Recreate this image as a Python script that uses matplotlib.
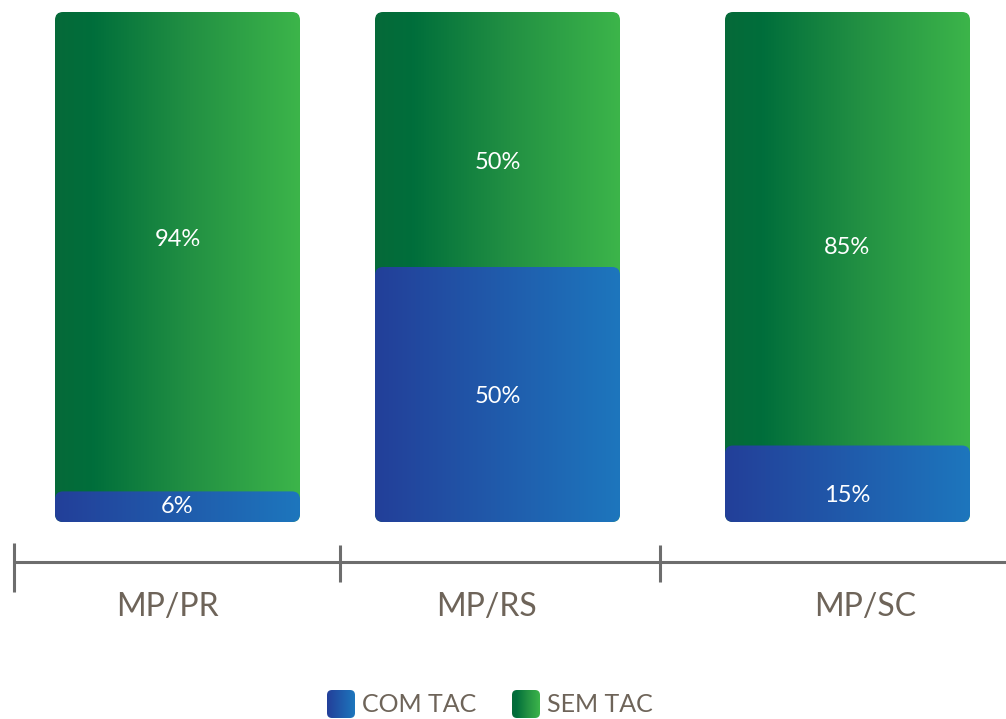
import numpy as np
import matplotlib
matplotlib.use("Agg")
import matplotlib.pyplot as plt
from matplotlib.patches import FancyBboxPatch
from matplotlib.colors import LinearSegmentedColormap

# ---- data ----
categories = ["MP/PR", "MP/RS", "MP/SC"]
com_tac = [6, 50, 15]
sem_tac = [94, 50, 85]
series_names = ["COM TAC", "SEM TAC"]

# ---- layout (pixels) ----
W, H = 1006, 719
bar_left = [55, 375, 725]
bar_width = 245
base_px = 522
scale = 5.1  # px per percent
cat_label_x = [167, 487, 865]
sem_label_dy = [-12, 23, 19]   # pixel nudges of value labels
com_label_dy = [0, 2, 12]

plt.rcParams['font.family'] = ['Lato', 'DejaVu Sans']
fig = plt.figure(figsize=(W / 100, H / 100), dpi=100)
ax = fig.add_axes([0, 0, 1, 1])
ax.set_axis_off()

def py(y):
    return (base_px - y) / scale

green_cmap = LinearSegmentedColormap.from_list(
    "g", [(0, "#066a39"), (0.15, "#006e3b"), (0.55, "#229043"), (1, "#3cb54a")])
blue_cmap = LinearSegmentedColormap.from_list(
    "b", [(0, "#233f99"), (1, "#1d76bd")])
grad = np.linspace(0, 1, 256).reshape(1, -1)
m_aspect = 1 / scale

def grad_box(x0, y0, w, h, cmap, r=8):
    patch = FancyBboxPatch((x0, y0), w, h,
                           boxstyle=f"round,pad=0,rounding_size={r}",
                           mutation_aspect=m_aspect, facecolor="none",
                           edgecolor="none", transform=ax.transData)
    ax.add_patch(patch)
    im = ax.imshow(grad, cmap=cmap, extent=[x0, x0 + w, y0, y0 + h],
                   aspect="auto", interpolation="bilinear", zorder=2)
    im.set_clip_path(patch)
    return patch

for i, cat in enumerate(categories):
    x0 = bar_left[i]
    total = com_tac[i] + sem_tac[i]
    grad_box(x0, 0, bar_width, total, green_cmap)
    grad_box(x0, 0, bar_width, com_tac[i], blue_cmap)
    cx = x0 + bar_width / 2
    ax.text(cx, com_tac[i] + sem_tac[i] / 2 - sem_label_dy[i] / scale,
            f"{sem_tac[i]}%", color="white",
            fontsize=17, ha="center", va="center", zorder=5)
    ax.text(cx, com_tac[i] / 2 - com_label_dy[i] / scale,
            f"{com_tac[i]}%", color="white",
            fontsize=17, ha="center", va="center", zorder=5)
    ax.text(cat_label_x[i], py(607), cat, color="#6e6459", fontsize=23,
            ha="center", va="center")

# axis line and ticks
axis_col = "#6d6d6d"
ax.plot([14, W], [py(562), py(562)], color=axis_col, lw=2.2, solid_capstyle="butt")
ax.plot([14, 14], [py(543), py(592)], color=axis_col, lw=2.2, solid_capstyle="butt")
for tx in [340, 660]:
    ax.plot([tx, tx], [py(545), py(582)], color=axis_col, lw=2.2, solid_capstyle="butt")

# legend
leg_x = [327, 512]
leg_cmaps = [blue_cmap, green_cmap]
for lx, name, cm in zip(leg_x, series_names, leg_cmaps):
    grad_box(lx, py(718), 28, 28 / scale, cm, r=5)
    ax.text(lx + 35, py(704), name, color="#6e6459", fontsize=18,
            ha="left", va="center")

ax.set_xlim(0, W)
ax.set_ylim(py(H), py(0))
fig.savefig("out.png", dpi=100)
